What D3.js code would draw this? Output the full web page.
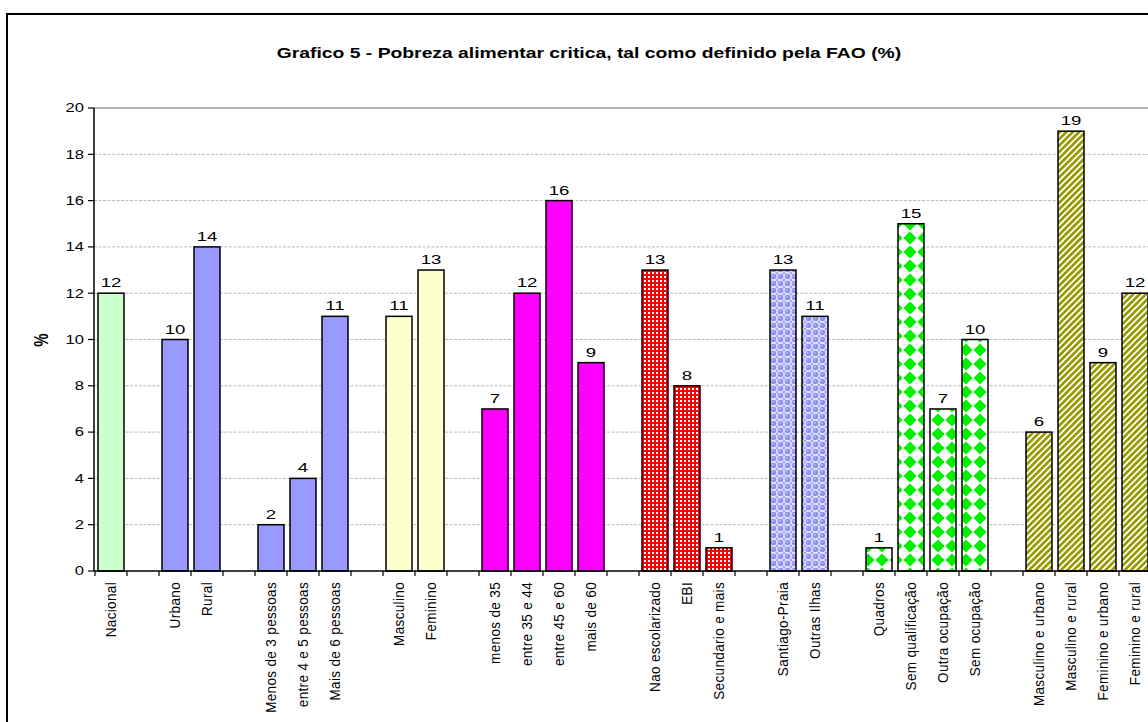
<!DOCTYPE html>
<html>
<head>
<meta charset="utf-8">
<script src="https://cdn.jsdelivr.net/npm/d3@7"></script>
<style>
  html, body { margin: 0; padding: 0; background: #fff; }
  svg { display: block; font-family: Arial, "Liberation Sans", sans-serif; }
</style>
</head>
<body>
<svg id="chart" width="1148" height="722"></svg>
<script>
// Category groups (each group separated by an empty slot on the axis)
const groupLabels = [
  ["Nacional"],
  ["Urbano", "Rural"],
  ["Menos de 3 pessoas", "entre 4 e 5 pessoas", "Mais de 6 pessoas"],
  ["Masculino", "Feminino"],
  ["menos de 35", "entre 35 e 44", "entre 45 e 60", "mais de 60"],
  ["Nao escolarizado", "EBI", "Secundario e mais"],
  ["Santiago-Praia", "Outras Ilhas"],
  ["Quadros", "Sem qualificação", "Outra ocupação", "Sem ocupação"],
  ["Masculino e urbano", "Masculino e rural", "Feminino e urbano", "Feminino e rural"]
];
const groupValues = [
  [12],
  [10, 14],
  [2, 4, 11],
  [11, 13],
  [7, 12, 16, 9],
  [13, 8, 1],
  [13, 11],
  [1, 15, 7, 10],
  [6, 19, 9, 12]
];
const yTicks = [0, 2, 4, 6, 8, 10, 12, 14, 16, 18, 20];
const title = "Grafico 5 - Pobreza alimentar critica, tal como definido pela FAO (%)";

// Flatten into axis slots, inserting a blank slot between groups
const slots = [];
groupLabels.forEach((labels, g) => {
  if (g > 0) slots.push({ key: "gap" + g, label: "", value: null, group: -1 });
  labels.forEach((l, i) => slots.push({ key: "c" + g + "_" + i, label: l, value: groupValues[g][i], group: g }));
});

// Text in this chart is drawn wide: horizontal stretch factor for glyphs
const SX = 1.38;

const svg = d3.select("#chart");
const defs = svg.append("defs");

// Fill patterns
const red = defs.append("pattern").attr("id", "pRed").attr("patternUnits", "userSpaceOnUse")
  .attr("width", 4).attr("height", 4);
red.append("rect").attr("width", 4).attr("height", 4).attr("fill", "#ff0000");
red.append("rect").attr("x", 0).attr("y", 0).attr("width", 2).attr("height", 2).attr("fill", "#ffffff");

const blue = defs.append("pattern").attr("id", "pBlue").attr("patternUnits", "userSpaceOnUse")
  .attr("width", 7).attr("height", 7);
blue.append("rect").attr("width", 7).attr("height", 7).attr("fill", "#ececff");
blue.append("circle").attr("cx", 3.5).attr("cy", 3.5).attr("r", 2.8).attr("fill", "#8c8cf5");
[[0, 0], [7, 0], [0, 7], [7, 7]].forEach(([cx, cy]) =>
  blue.append("circle").attr("cx", cx).attr("cy", cy).attr("r", 1.6).attr("fill", "#a8a8fa"));
blue.append("circle").attr("cx", 2.8).attr("cy", 2.8).attr("r", 0.9).attr("fill", "#c8c8ff");

// Rotated checker: green diamonds at the cell corners, white diamonds between
const G = 14, h = 6.6;
const diamond = (cx, cy) => `M${cx},${cy - h} L${cx + h},${cy} L${cx},${cy + h} L${cx - h},${cy} Z`;
const green = defs.append("pattern").attr("id", "pGreen").attr("patternUnits", "userSpaceOnUse")
  .attr("width", G).attr("height", G);
green.append("rect").attr("width", G).attr("height", G).attr("fill", "#ffffff");
green.append("path")
  .attr("d", [[0, 0], [G, 0], [0, G], [G, G]].map(([a, b]) => diamond(a, b)).join(" "))
  .attr("fill", "#00f000");

const olive = defs.append("pattern").attr("id", "pOlive").attr("patternUnits", "userSpaceOnUse")
  .attr("width", 4.5).attr("height", 4.5).attr("patternTransform", "rotate(45)");
olive.append("rect").attr("width", 4.5).attr("height", 4.5).attr("fill", "#ffffff");
olive.append("rect").attr("x", 0).attr("width", 2.7).attr("height", 4.5).attr("fill", "#999900");

const groupFills = ["#ccffcc", "#9999ff", "#9999ff", "#ffffcc", "#ff00ff",
  "url(#pRed)", "url(#pBlue)", "url(#pGreen)", "url(#pOlive)"];

// White background and outer frame
svg.append("rect").attr("width", 1148).attr("height", 722).attr("fill", "#fff");
svg.append("rect").attr("x", 7).attr("y", 14).attr("width", 1200).attr("height", 800)
  .attr("fill", "none").attr("stroke", "#000").attr("stroke-width", 2);

// Scales
const x = d3.scaleBand().domain(slots.map(d => d.key)).range([95, 95 + 32 * slots.length])
  .paddingInner(0.1875).paddingOuter(0.09375);
const y = d3.scaleLinear().domain([0, 20]).range([571, 108]);
const step = x.step();
const pad = (step - x.bandwidth()) / 2;

// Title
svg.append("text").attr("transform", `translate(589,58) scale(${SX},1)`).attr("text-anchor", "middle")
  .attr("font-size", 14).attr("font-weight", "bold").text(title);

// Gridlines
svg.append("g").selectAll("line").data(yTicks.filter(t => t > 0 && t < 20)).join("line")
  .attr("x1", 94).attr("x2", 1148).attr("y1", d => y(d)).attr("y2", d => y(d))
  .attr("stroke", "#b8b8b8").attr("stroke-width", 1).attr("stroke-dasharray", "3,1.5");
svg.append("line").attr("x1", 94).attr("x2", 1160).attr("y1", y(20)).attr("y2", y(20))
  .attr("stroke", "#999").attr("stroke-width", 1.5);

// Bars
const bars = slots.filter(d => d.value !== null);
svg.append("g").selectAll("rect").data(bars).join("rect")
  .attr("x", d => x(d.key)).attr("width", x.bandwidth())
  .attr("y", d => y(d.value)).attr("height", d => y(0) - y(d.value))
  .attr("fill", d => groupFills[d.group])
  .attr("stroke", "#000").attr("stroke-width", 1.5);

// Value labels
svg.append("g").selectAll("text").data(bars).join("text")
  .attr("transform", d => `translate(${x(d.key) + x.bandwidth() / 2},${y(d.value) - 6}) scale(${SX},1)`)
  .attr("text-anchor", "middle").attr("font-size", 13.5).text(d => d.value);

// Y axis: domain line, ticks and labels
svg.append("line").attr("x1", 94).attr("x2", 94).attr("y1", y(20)).attr("y2", y(0))
  .attr("stroke", "#000").attr("stroke-width", 1.5);
const gy = svg.append("g");
gy.selectAll("line").data(yTicks).join("line")
  .attr("x1", 88).attr("x2", 94).attr("y1", d => y(d)).attr("y2", d => y(d))
  .attr("stroke", "#000").attr("stroke-width", 1.2);
gy.selectAll("text").data(yTicks).join("text")
  .attr("transform", d => `translate(84,${y(d)}) scale(${SX},1)`)
  .attr("text-anchor", "end").attr("dy", "0.36em").attr("font-size", 12).text(d3.format("d"));

// X axis line with ticks at slot boundaries
svg.append("line").attr("x1", 94).attr("x2", 1160).attr("y1", y(0)).attr("y2", y(0))
  .attr("stroke", "#000").attr("stroke-width", 1.5);
const boundaries = slots.map(d => x(d.key) - pad).concat([x(slots[slots.length - 1].key) + x.bandwidth() + pad]);
svg.append("g").selectAll("line").data(boundaries).join("line")
  .attr("x1", d => d).attr("x2", d => d).attr("y1", y(0)).attr("y2", y(0) + 5)
  .attr("stroke", "#000").attr("stroke-width", 1.2);

// Category labels, rotated
svg.append("g").selectAll("text").data(bars).join("text")
  .attr("transform", d => `translate(${x(d.key) + x.bandwidth() / 2},582) rotate(-90) scale(1,1.1)`)
  .attr("text-anchor", "end").attr("dy", "0.35em").attr("font-size", 13.5)
  .attr("letter-spacing", 0.35).text(d => d.label);

// Y axis title
svg.append("text").attr("transform", "translate(41,340) rotate(-90) scale(1,1.3)").attr("text-anchor", "middle")
  .attr("dy", "0.35em").attr("font-size", 15).attr("font-weight", "bold").text("%");
</script>
</body>
</html>
